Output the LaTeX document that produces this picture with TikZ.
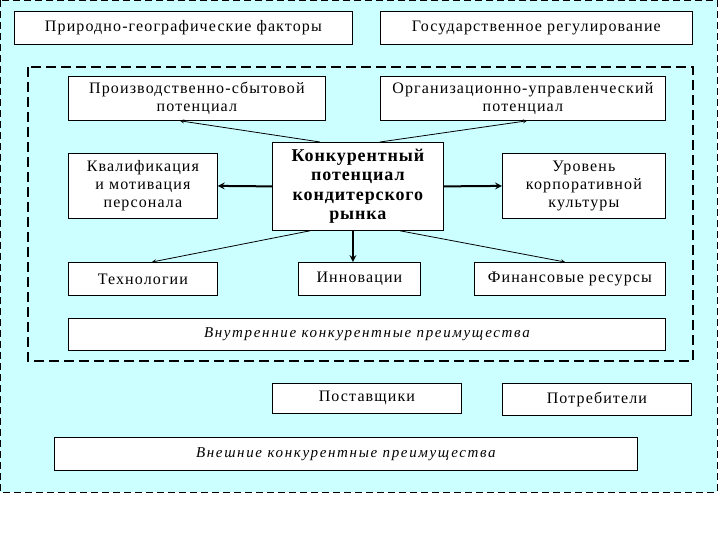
\documentclass[tikz,border=0pt]{standalone}
\usepackage{fontspec}
\setmainfont{Liberation Serif}[LetterSpace=7]
\newfontfamily\corefont{Liberation Serif}[LetterSpace=5]
\newfontfamily\summaryfont{Liberation Serif}[LetterSpace=11]
\usepackage{tikz}
\usetikzlibrary{shapes.geometric, arrows}
\definecolor{back}{RGB}{204,255,255}
\tikzstyle{factor} = [rectangle, anchor=north west, inner sep=0pt, text centered, draw=black, line width=0.8pt, fill=white, font=\fontsize{16}{18}\selectfont]
\tikzstyle{core} = [factor, font=\fontsize{18}{19.5}\corefont\bfseries]
\tikzstyle{summary} = [factor, font=\fontsize{15}{17}\summaryfont\itshape]
\tikzstyle{arrow} = [line width=2pt,->,>=stealth]
\tikzstyle{thinarrow} = [line width=0.8pt,->,>=stealth]
\tikzstyle{outerframe} = [draw=black, line width=0.8pt, fill=back, dash pattern=on 7pt off 4pt]
\tikzstyle{innerframe} = [draw=black, line width=1.8pt, dash pattern=on 10pt off 5pt]

\begin{document}
\begin{tikzpicture}[x=1pt, y=-1pt]
	\useasboundingbox (0,0) rectangle (720,540);
	
	% Frames
	\path[outerframe] (0,0) rectangle (717,492);
	\path[innerframe] (28,67) rectangle (693,361);
	
	% Nodes
	\node (nature) [factor, minimum width=338pt, minimum height=33pt] at (14,11) {Природно-географические факторы};
	\node (state) [factor, minimum width=312pt, minimum height=33pt] at (380,11) {Государственное регулирование};
	\node (prod) [factor, minimum width=257pt, minimum height=44pt, align=center] at (68,76) {Производственно-сбытовой\\потенциал};
	\node (org) [factor, minimum width=285pt, minimum height=44pt, align=center] at (380,76) {Организационно-управленческий\\потенциал};
	\node (staff) [factor, minimum width=149pt, minimum height=65pt, align=center] at (68,153) {Квалификация\\и мотивация\\персонала};
	\node (core) [core, minimum width=171pt, minimum height=88pt, align=center] at (272,142) {Конкурентный\\потенциал\\кондитерского\\рынка};
	\node (culture) [factor, minimum width=163pt, minimum height=65pt, align=center] at (502,153) {Уровень\\корпоративной\\культуры};
	\node (tech) [factor, minimum width=149pt, minimum height=33pt] at (68,262) {Технологии};
	\node (innov) [factor, minimum width=122pt, minimum height=33pt] at (298,262) {Инновации};
	\node (finance) [factor, minimum width=191pt, minimum height=33pt] at (474,262) {Финансовые ресурсы};
	\node (inner) [summary, minimum width=597pt, minimum height=32pt] at (68,318) {Внутренние конкурентные преимущества};
	\node (suppl) [factor, minimum width=189pt, minimum height=30pt] at (272,383) {Поставщики};
	\node (cons) [factor, minimum width=189pt, minimum height=32pt] at (502,383) {Потребители};
	\node (outer) [summary, minimum width=583pt, minimum height=33pt] at (54,437) {Внешние конкурентные преимущества};
	
	% Arrows
	\draw [thinarrow] ([xshift=48pt]core.north west) -- ([xshift=112pt]prod.south west);
	\draw [thinarrow] ([xshift=108pt]core.north west) -- ([xshift=147pt]org.south west);
	\draw [arrow] (core.west) -- (staff.east);
	\draw [arrow] (core.east) -- (culture.west);
	\draw [thinarrow] ([xshift=38pt]core.south west) -- ([xshift=84pt]tech.north west);
	\draw [arrow] ([xshift=-5pt]core.south) -- ([xshift=-5pt]core.south |- innov.north);
	\draw [thinarrow] ([xshift=128pt]core.south west) -- ([xshift=91pt]finance.north west);
	
\end{tikzpicture}
\end{document}
